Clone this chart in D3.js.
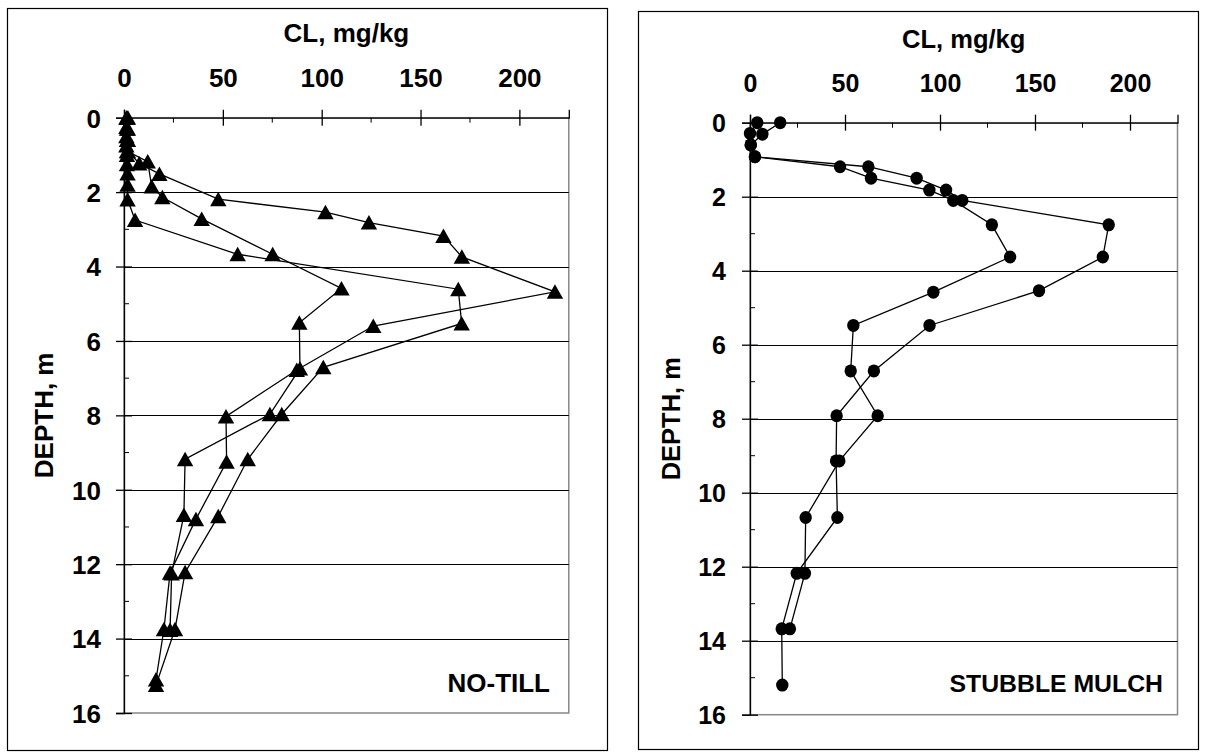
<!DOCTYPE html>
<html>
<head>
<meta charset="utf-8">
<script src="https://cdn.jsdelivr.net/npm/d3@7"></script>
<style>
  body { margin: 0; background: #fff; }
  text { font-family: "Liberation Sans", Arial, sans-serif; font-weight: bold; fill: #000; }
</style>
</head>
<body>
<svg id="chart" width="1206" height="753"></svg>
<script>
var clTicks = [0, 50, 100, 150, 200];
var clMinor = [25, 75, 125, 175];
var depthTicks = [0, 2, 4, 6, 8, 10, 12, 14, 16];
var depthMinor = [1, 3, 5, 7, 9, 11, 13, 15];

// no-till profiles, each point is [CL mg/kg, depth m]
var noTill1 = [[1.5,0],[1.5,0.3],[1.5,0.6],[1.5,0.9],[12,1.18],[14,1.85],[19.4,2.14],[39.3,2.72],
  [75.2,3.67],[110,4.59],[88.7,5.51],[89,6.74],[73.8,7.97],[30.9,9.18],[30.3,10.68],[24.1,12.25],[23.3,13.77]];
var noTill2 = [[2,0],[2,0.3],[2,0.6],[2,0.9],[7.7,1.23],[17.9,1.51],[47.7,2.19],[101.9,2.54],[123.9,2.82],
  [161.6,3.18],[170.9,3.74],[218,4.68],[126.1,5.6],[87.4,6.78],[51.6,8.03],[51.9,9.25],[36.4,10.79],
  [23.3,12.23],[20.2,13.75],[16.2,15.1]];
var noTill3 = [[1.2,0],[1.2,0.25],[1.2,0.5],[1.2,0.75],[1.5,1.0],[1.5,1.25],[1.8,1.5],[1.8,1.8],[1.8,2.2],
  [5.6,2.75],[57.5,3.67],[169.1,4.61],[170.8,5.53],[100.8,6.71],[79.8,7.97],[62.6,9.18],[47.7,10.71],
  [30.9,12.22],[25.8,13.75],[16.2,15.25]];

// stubble mulch profiles
var mulch1 = [[15.9,0],[6.5,0.31],[0.4,0.6],[2.6,0.92],[62.3,1.19],[87.7,1.5],[103.2,1.82],[111.7,2.1],
  [188.8,2.76],[185.7,3.63],[152.1,4.54],[94.5,5.48],[65.2,6.71],[45.6,7.92],[45.3,9.14],[46,10.67],
  [24.6,12.18],[16.7,13.68],[17,15.2]];
var mulch2 = [[3.8,0],[0,0.29],[0.4,0.6],[2.6,0.92],[47.4,1.19],[63.7,1.5],[94.4,1.82],[107,2.1],
  [127.3,2.76],[136.9,3.63],[96.5,4.58],[54.4,5.48],[53,6.71],[67.2,7.92],[47,9.14],[29.3,10.67],
  [28.9,12.18],[21,13.68]];

var svg = d3.select("#chart");

function drawPanel(p) {
  var g = svg.append("g");

  g.append("rect")
    .attr("x", p.frame[0] + 0.5).attr("y", p.frame[1] + 0.5)
    .attr("width", p.frame[2]).attr("height", p.frame[3])
    .attr("fill", "#fff").attr("stroke", "#000").attr("stroke-width", 1.2);

  var x = d3.scaleLinear().domain([0, 225]).range([p.left, p.right]);
  var y = d3.scaleLinear().domain([0, 16]).range([p.top, p.bottom]);
  var midX = (p.left + p.right) / 2, midY = (p.top + p.bottom) / 2;

  // plot area border
  g.append("rect")
    .attr("x", p.left).attr("y", p.top)
    .attr("width", p.right - p.left).attr("height", p.bottom - p.top)
    .attr("fill", "none").attr("stroke", "#888").attr("stroke-width", 1.5);

  // gridlines
  g.selectAll(".grid").data(depthTicks.slice(1, -1)).enter().append("line")
    .attr("x1", p.left).attr("x2", p.right)
    .attr("y1", function(d){ return Math.round(y(d)) + 0.5; })
    .attr("y2", function(d){ return Math.round(y(d)) + 0.5; })
    .attr("stroke", "#000").attr("stroke-width", 1);

  // top axis
  var xAxis = g.append("g").attr("transform", "translate(0," + p.top + ")")
    .call(d3.axisTop(x).tickValues(clTicks).tickSize(8).tickPadding(20));
  xAxis.select(".domain").attr("stroke-width", 1.3);
  xAxis.selectAll(".tick line").attr("y2", -8).attr("y1", 8).attr("stroke-width", 1.3);
  xAxis.selectAll(".tick text").attr("font-size", p.tickFont).attr("y", p.xLabelY - p.top)
    .attr("dy", 0).attr("font-family", null);
  g.selectAll(".xminor").data(clMinor).enter().append("line")
    .attr("x1", function(d){ return x(d); }).attr("x2", function(d){ return x(d); })
    .attr("y1", p.top).attr("y2", p.top + 5).attr("stroke", "#000");

  // left axis
  var yAxis = g.append("g").attr("transform", "translate(" + p.left + ",0)")
    .call(d3.axisLeft(y).tickValues(depthTicks).tickSize(8));
  yAxis.select(".domain").attr("stroke-width", 1.3);
  yAxis.selectAll(".tick line").attr("x2", -8).attr("x1", 8).attr("stroke-width", 1.3);
  yAxis.selectAll(".tick text").attr("font-size", p.tickFont).attr("x", p.yLabelX - p.left)
    .attr("dy", "0.36em").attr("font-family", null);
  g.selectAll(".yminor").data(depthMinor).enter().append("line")
    .attr("x1", p.left).attr("x2", p.left + 5)
    .attr("y1", function(d){ return y(d); }).attr("y2", function(d){ return y(d); })
    .attr("stroke", "#000");

  // titles
  g.append("text").attr("x", midX).attr("y", p.titleY)
    .attr("text-anchor", "middle").attr("font-size", p.titleFont).text("CL, mg/kg");
  g.append("text")
    .attr("transform", "translate(" + p.depthX + "," + midY + ") rotate(-90)")
    .attr("text-anchor", "middle").attr("font-size", p.titleFont).text("DEPTH, m");
  g.append("text").attr("x", p.labelRight).attr("y", p.labelY)
    .attr("text-anchor", "end").attr("font-size", p.labelFont).text(p.label);

  var line = d3.line()
    .x(function(d){ return x(d[0]); })
    .y(function(d){ return y(d[1]); });

  p.series.forEach(function(s){
    g.append("path").datum(s).attr("d", line)
      .attr("fill", "none").attr("stroke", "#000").attr("stroke-width", 1.3);
  });

  p.series.forEach(function(s){
    var m = g.selectAll(null).data(s).enter();
    if (p.marker === "triangle") {
      m.append("path")
        .attr("transform", function(d){ return "translate(" + x(d[0]) + "," + y(d[1]) + ")"; })
        .attr("d", "M0,-7.5L8.2,7L-8.2,7Z").attr("fill", "#000");
    } else {
      m.append("ellipse")
        .attr("cx", function(d){ return x(d[0]); }).attr("cy", function(d){ return y(d[1]); })
        .attr("rx", 6.2).attr("ry", 6.5).attr("fill", "#000");
    }
  });
}

drawPanel({
  frame: [7, 8, 600, 742],
  left: 124, right: 568.8, top: 117.7, bottom: 713,
  tickFont: 26, titleFont: 26, labelFont: 26,
  xLabelY: 87, yLabelX: 101,
  titleY: 41.5, depthX: 53,
  label: "NO-TILL", labelRight: 550, labelY: 691.5,
  series: [noTill1, noTill2, noTill3], marker: "triangle"
});

drawPanel({
  frame: [638, 11, 560, 738],
  left: 750, right: 1177.5, top: 122.7, bottom: 714.7,
  tickFont: 25, titleFont: 25.5, labelFont: 24.8,
  xLabelY: 92, yLabelX: 726,
  titleY: 47.5, depthX: 680,
  label: "STUBBLE MULCH", labelRight: 1163, labelY: 691.5,
  series: [mulch1, mulch2], marker: "circle"
});
</script>
</body>
</html>
